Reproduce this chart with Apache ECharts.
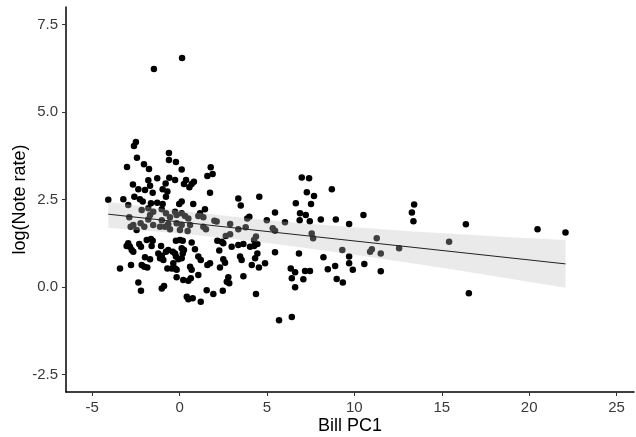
<!DOCTYPE html>
<html><head><meta charset="utf-8">
<script src="https://cdn.jsdelivr.net/npm/echarts@6/dist/echarts.min.js"></script>
<style>html,body{margin:0;padding:0;background:#fff}#c{width:636px;height:437px}</style>
</head><body><div id="c"></div>
<script>
const xTicks = [-5, 0, 5, 10, 15, 20, 25];
const yTicks = [-2.5, 0, 2.5, 5, 7.5];

const billPC1 = [
 0.14,-1.47,-2.50,-2.61,-2.44,-0.61,-3.01,-2.04,-1.75,-0.61,
 -0.21,0.12,1.78,1.59,1.89,-1.28,-0.59,-1.79,-2.67,-0.80,
 -0.26,0.37,0.25,0.82,0.69,0.56,-2.36,-1.69,-1.98,-1.54,
 -0.97,-0.70,1.74,-2.59,-3.22,-4.08,-2.27,-2.11,-1.64,-1.28,
 -0.78,-0.02,0.12,0.78,1.45,3.36,3.50,4.56,-0.97,
 -2.94,-2.88,-2.17,-1.79,-1.69,-1.51,-1.02,-0.78,-0.55,-0.26,
 -0.17,0.12,0.31,0.50,1.07,1.17,1.36,-1.02,-1.79,-2.23,
 -2.65,-2.80,-2.02,-1.51,-0.65,-0.17,0.12,-0.84,-0.55,-1.12,
 0.02,0.46,1.36,1.51,1.99,2.12,2.64,2.89,3.36,3.78,
 3.99,3.87,4.37,4.26,-2.46,0.60,2.89,
 -2.94,-2.84,-3.03,-2.74,-2.65,-2.31,-2.21,-1.88,-1.64,-1.54,
 -1.60,-1.06,-1.98,-1.69,-1.22,-1.02,-1.12,-0.93,-0.78,-0.65,
 -0.70,-3.41,-2.78,-2.17,-2.02,-1.85,-2.36,-2.21,-1.02,-0.89,
 -0.21,0.02,0.18,0.69,2.16,2.41,2.50,2.98,3.36,3.65,
 4.03,4.26,4.45,-0.39,-0.26,-0.21,-0.07,0.12,0.18,0.25,
 0.12,0.88,2.27,1.07,1.21,1.59,1.74,2.50,2.60,3.46,
 3.55,4.45,4.32,-0.36,-0.26,-0.17,-0.45,0.60,0.69,2.31,
 4.13,1.07,-0.17,0.21,0.50,0.64,2.79,2.70,2.84,3.65,
 1.55,1.93,2.47,0.41,0.50,0.75,1.21,4.37,
 6.99,7.41,8.71,7.28,7.69,6.65,7.52,5.46,6.89,7.22,
 6.87,7.45,8.08,8.94,9.70,10.52,4.99,6.03,5.33,5.46,
 7.56,7.64,9.31,5.46,6.83,4.89,4.54,8.23,9.70,9.70,
 9.91,8.90,8.48,6.36,6.61,7.18,7.46,6.42,7.08,8.99,
 9.34,6.61,10.57,5.69,6.42,
 13.42,13.29,13.38,11.28,11.00,10.90,11.51,12.56,15.42,11.51,
 16.38,16.55,20.48,22.08
];
const logNoteRate = [
 6.54,6.23,4.14,4.03,3.69,3.83,3.43,3.51,3.37,3.63,
 3.57,3.36,3.42,3.17,3.23,3.11,3.12,3.05,2.93,2.96,
 3.06,3.06,2.94,3.01,2.94,2.85,2.79,2.89,2.77,2.69,
 2.79,2.73,2.69,2.58,2.51,2.49,2.51,2.44,2.39,2.41,
 2.58,2.37,2.44,2.37,2.22,2.53,2.33,2.58,2.37,
 2.34,1.99,2.20,2.25,2.06,2.15,2.22,2.11,1.99,2.15,
 2.06,2.11,2.03,1.96,2.03,2.11,1.99,1.91,1.93,1.82,
 1.77,1.72,1.72,1.77,1.80,1.82,1.77,1.72,1.65,1.72,
 1.63,1.60,1.72,1.65,1.89,1.87,1.46,1.51,1.65,1.71,
 2.01,1.96,1.44,1.34,1.63,1.77,1.80,
 1.25,1.15,1.17,1.06,1.01,1.23,1.15,1.34,1.37,1.32,
 1.17,1.17,0.85,0.79,0.96,0.89,0.82,0.77,1.01,1.06,
 0.53,0.53,0.63,0.63,0.58,0.56,0.13,-0.11,-0.04,0.03,
 1.32,1.34,1.32,1.27,1.32,1.29,1.25,1.15,1.20,1.23,
 1.15,1.17,1.23,1.01,0.96,0.87,0.79,0.82,0.96,1.06,
 1.11,1.08,1.04,0.87,0.77,0.63,0.68,0.79,0.69,0.87,
 0.77,0.96,0.82,0.68,0.53,0.49,0.53,0.58,0.49,0.56,
 0.63,0.34,0.28,0.20,0.18,0.25,0.28,0.15,0.11,0.31,
 -0.09,-0.20,-0.11,-0.28,-0.35,-0.32,-0.42,-0.20,
 3.13,3.11,2.79,2.71,2.60,2.39,2.37,2.13,2.11,2.06,
 1.91,1.88,1.93,1.93,1.80,2.06,1.91,1.85,1.68,1.61,
 1.53,1.39,1.06,0.99,0.96,0.68,0.56,0.85,0.87,0.68,
 0.49,0.60,0.51,0.53,0.42,0.46,0.46,0.25,0.22,0.23,
 0.13,-0.01,0.66,-0.95,-0.86,
 2.36,2.13,1.88,1.39,1.08,1.01,0.96,1.11,1.29,0.45,
 1.79,-0.18,1.65,1.56
];

const fitX = [-4.08, 22.08];
const fitY = [2.08, 0.66];

const bandX     = [-4.08, 0,    2,    4,    7,    10,   13,   16,   19,   22.08];
const bandUpper = [2.43,  2.18, 2.07, 1.96, 1.82, 1.71, 1.60, 1.51, 1.42, 1.34];
const bandLower = [1.69,  1.53, 1.43, 1.32, 1.13, 0.92, 0.70, 0.47, 0.23, -0.02];

const font = 'Arial, "Liberation Sans", sans-serif';
const chart = echarts.init(document.getElementById('c'), null, {renderer: 'canvas'});

function renderBand(params, api) {
  if (params.dataIndex !== 0) return null;
  const pts = [];
  for (let i = 0; i < bandX.length; i++) pts.push(api.coord([bandX[i], bandUpper[i]]));
  for (let i = bandX.length - 1; i >= 0; i--) pts.push(api.coord([bandX[i], bandLower[i]]));
  return {type: 'polygon', shape: {points: pts}, style: {fill: 'rgba(190,190,190,0.33)'}};
}

const axisCommon = {
  splitLine: {show: false},
  axisLine: {show: true, onZero: false, lineStyle: {color: '#000', width: 1.5}},
  nameTextStyle: {fontFamily: font, fontSize: 18, color: '#000'},
  nameLocation: 'middle',
  nameMoveOverlap: false
};

chart.setOption({
  animation: false,
  backgroundColor: '#fff',
  grid: {left: 66, right: 2, top: 7, bottom: 45, containLabel: false, outerBoundsMode: 'none'},
  xAxis: Object.assign({}, axisCommon, {
    type: 'value', min: -6.5, max: 26,
    name: 'Bill PC1', nameGap: 25,
    axisTick: {show: true, length: 4, customValues: xTicks, lineStyle: {color: '#333', width: 1}},
    axisLabel: {customValues: xTicks, margin: 8, fontFamily: font, fontSize: 15, color: '#3a3a3a'}
  }),
  yAxis: Object.assign({}, axisCommon, {
    type: 'value', min: -3, max: 8,
    name: 'log(Note rate)', nameGap: 37,
    axisTick: {show: true, length: 4, customValues: yTicks, lineStyle: {color: '#333', width: 1}},
    axisLabel: {customValues: yTicks, margin: 8, fontFamily: font, fontSize: 15, color: '#3a3a3a',
      formatter: v => v.toFixed(1)}
  }),
  series: [
    {type: 'scatter', data: billPC1.map((x, i) => [x, logNoteRate[i]]), symbolSize: 6.5,
     itemStyle: {color: '#000', opacity: 1}, z: 2, silent: true},
    {type: 'custom', renderItem: renderBand, data: [[bandX[0], bandLower[0]]], z: 3, silent: true},
    {type: 'line', data: fitX.map((x, i) => [x, fitY[i]]), symbol: 'none',
     lineStyle: {color: '#222', width: 1}, z: 4, silent: true}
  ]
});
</script>
</body></html>
